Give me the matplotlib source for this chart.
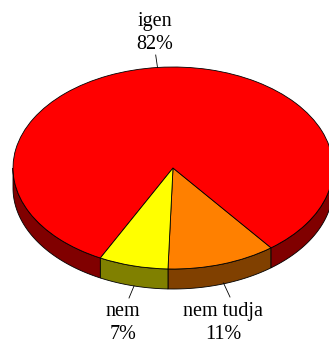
import numpy as np
import matplotlib
matplotlib.use("Agg")
import matplotlib.pyplot as plt
from matplotlib.patches import Polygon

# válaszok megoszlása
labels = ["nem tudja", "igen", "nem"]
values = [11, 82, 7]
colors = ["#FF8000", "#FF0000", "#FFFF00"]
side_colors = ["#804000", "#800000", "#808000"]

W, H = 329, 340
CX, CY = 173, 168      # pie centre, pixels from top-left
RX, RY = 160, 101      # ellipse radii, pixels
DEPTH = 20 / RY        # thickness of the disc in data units

plt.rcParams["font.family"] = ["Liberation Serif", "DejaVu Serif"]

fig = plt.figure(figsize=(W / 100, H / 100), dpi=100)
ax = fig.add_axes([0, 0, 1, 1])


def px(x, y):
    # pixel position -> data coordinates (x scaled by RX, y by RY)
    return (x - CX) / RX, (CY - y) / RY


wedges, _ = ax.pie(values, colors=colors, startangle=-91.8, counterclock=True,
                   wedgeprops=dict(edgecolor="black", linewidth=0.6))
for w in wedges:
    w.set_zorder(3)

# front wall of the disc, only the part facing the viewer (180..360 deg)
for w, sc in zip(wedges, side_colors):
    t1, t2 = w.theta1, w.theta2
    for lo, hi in [(-180, 0), (180, 360), (540, 720)]:
        a, b = max(t1, lo), min(t2, hi)
        if b <= a:
            continue
        t = np.radians(np.linspace(a, b, 80))
        top = np.column_stack([np.cos(t), np.sin(t)])
        bot = np.column_stack([np.cos(t[::-1]), np.sin(t[::-1]) - DEPTH])
        ax.add_patch(Polygon(np.vstack([top, bot]), closed=True, facecolor=sc,
                             edgecolor="black", linewidth=0.6, zorder=2))

ax.set_aspect("auto")
ax.set_xlim(-CX / RX, (W - CX) / RX)
ax.set_ylim(-(H - CY) / RY, CY / RY)
ax.axis("off")

# labels with leader lines
txt = dict(ha="center", va="center", fontsize=14.5, linespacing=1.25, zorder=5)
ax.text(*px(155, 33), "igen\n82%", **txt)
ax.plot(*zip(px(155.7, 55), px(157.5, 67.5)), color="black", lw=0.6, zorder=4)

ax.text(*px(123, 323), "nem\n7%", **txt)
ax.plot(*zip(px(134, 286), px(129, 298)), color="black", lw=0.6, zorder=4)

ax.text(*px(223, 323), "nem tudja\n11%", **txt)
ax.plot(*zip(px(223.5, 283), px(230, 297)), color="black", lw=0.6, zorder=4)

fig.savefig("out.png", dpi=100)
